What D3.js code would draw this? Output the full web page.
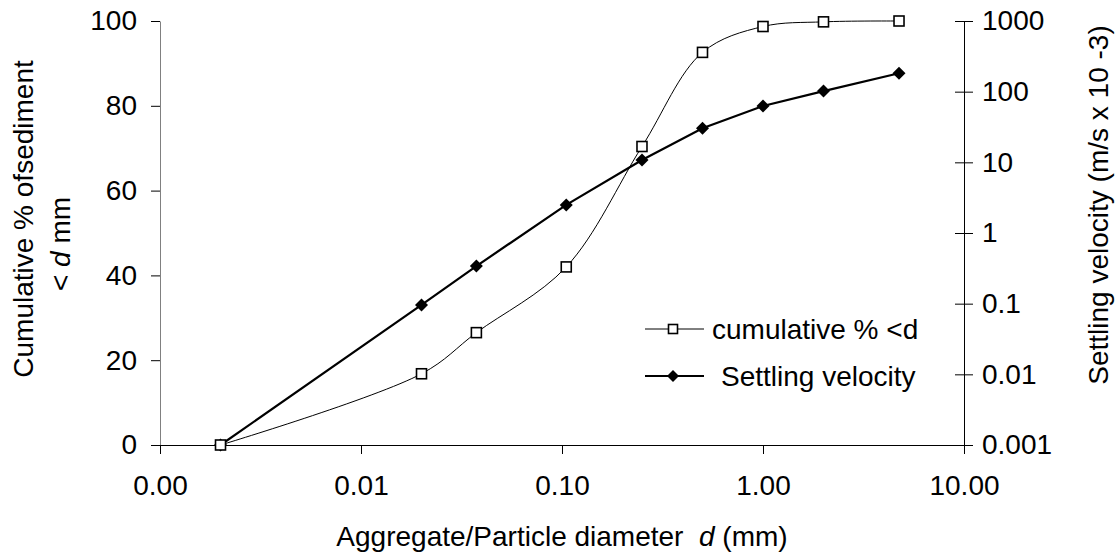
<!DOCTYPE html>
<html>
<head>
<meta charset="utf-8">
<script src="https://cdn.jsdelivr.net/npm/d3@7"></script>
<style>
  html, body { margin: 0; padding: 0; background: #fff; }
  svg { display: block; font-family: Arial, "Liberation Sans", sans-serif; }
</style>
</head>
<body>
<svg id="chart" width="1116" height="556"></svg>
<script>
// ---- data ----
const diameters = [0.002, 0.02, 0.0375, 0.105, 0.25, 0.5, 1.0, 2.0, 4.75];
const cumulativePct = [0, 16.8, 26.5, 42.0, 70.4, 92.6, 98.7, 99.8, 100];
const settlingVelocity = [0.001, 0.096, 0.34, 2.5, 10.8, 30.3, 62.7, 102, 182];
const xTickValues = [0.001, 0.01, 0.1, 1, 10];
const xTickLabels = ["0.00", "0.01", "0.10", "1.00", "10.00"];
const yLeftTicks = [0, 20, 40, 60, 80, 100];
const yRightTickValues = [0.001, 0.01, 0.1, 1, 10, 100, 1000];
const yRightTickLabels = ["0.001", "0.01", "0.1", "1", "10", "100", "1000"];
const seriesNames = ["cumulative % <d", "Settling velocity"];

// ---- layout ----
const L = 160, R = 964, T = 21, B = 445;
const FS = 28;
const svg = d3.select("#chart");

const x = d3.scaleLog().domain([0.001, 10]).range([L, R]);
const yL = d3.scaleLinear().domain([0, 100]).range([B, T]);
const yR = d3.scaleLog().domain([0.001, 1000]).range([B, T]);

// left axis
const gL = svg.append("g").attr("transform", `translate(${L},0)`)
  .call(d3.axisLeft(yL).tickValues(yLeftTicks).tickSize(9).tickSizeOuter(0).tickPadding(14));
gL.select(".domain").attr("stroke", "#808080");
gL.selectAll(".tick line").attr("stroke", "#000");

// right axis
const gR = svg.append("g").attr("transform", `translate(${R},0)`)
  .call(d3.axisRight(yR).tickValues(yRightTickValues)
    .tickFormat((d, i) => yRightTickLabels[i]).tickSize(9).tickSizeOuter(0).tickPadding(9));
gR.selectAll(".tick line").attr("x1", -9).attr("x2", 9).attr("stroke", "#000");
gR.select(".domain").attr("stroke", "#000");

// bottom axis
const gX = svg.append("g").attr("transform", `translate(0,${B})`)
  .call(d3.axisBottom(x).tickValues(xTickValues)
    .tickFormat((d, i) => xTickLabels[i]).tickSize(9).tickSizeOuter(0).tickPadding(21));
gX.select(".domain").attr("stroke", "#000");
gX.selectAll(".tick line").attr("stroke", "#000");

svg.selectAll(".tick text").attr("font-size", FS).attr("font-family", "Arial, 'Liberation Sans', sans-serif").attr("fill", "#000");

// axis titles
const xt = svg.append("text").attr("x", 562).attr("y", 546).attr("text-anchor", "middle")
  .attr("font-size", FS);
xt.append("tspan").text("Aggregate/Particle diameter\u00a0\u00a0");
xt.append("tspan").attr("font-style", "italic").text("d");
xt.append("tspan").text(" (mm)");

svg.append("text").attr("transform", "translate(33,219) rotate(-90)")
  .attr("text-anchor", "middle").attr("font-size", FS).text("Cumulative % ofsediment");
const lt2 = svg.append("text").attr("transform", "translate(70,244) rotate(-90)")
  .attr("text-anchor", "middle").attr("font-size", FS);
lt2.append("tspan").text("< ");
lt2.append("tspan").attr("font-style", "italic").text("d");
lt2.append("tspan").text(" mm");

svg.append("text").attr("transform", "translate(1108,205) rotate(-90)")
  .attr("text-anchor", "middle").attr("font-size", FS).text("Settling velocity (m/s x 10 -3)");

// ---- series ----
const cumData = diameters.map((d, i) => [d, cumulativePct[i]]);
const velData = diameters.map((d, i) => [d, settlingVelocity[i]]);

svg.append("path").datum(cumData)
  .attr("d", d3.line().x(d => x(d[0])).y(d => yL(d[1])).curve(d3.curveCatmullRom.alpha(0.5)))
  .attr("fill", "none").attr("stroke", "#000").attr("stroke-width", 1);

svg.append("path").datum(velData)
  .attr("d", d3.line().x(d => x(d[0])).y(d => yR(d[1])))
  .attr("fill", "none").attr("stroke", "#000").attr("stroke-width", 2.2);

const diamond = s => `M0,${-s}L${s},0L0,${s}L${-s},0Z`;

svg.append("g").selectAll("path").data(velData).join("path")
  .attr("transform", d => `translate(${x(d[0])},${yR(d[1])})`)
  .attr("d", diamond(6.5)).attr("fill", "#000");

svg.append("g").selectAll("rect").data(cumData).join("rect")
  .attr("x", d => x(d[0]) - 5).attr("y", d => yL(d[1]) - 5)
  .attr("width", 10).attr("height", 10)
  .attr("fill", "#fff").attr("stroke", "#000").attr("stroke-width", 1.6);

// ---- legend ----
const lg = svg.append("g");
lg.append("line").attr("x1", 645).attr("x2", 704).attr("y1", 329).attr("y2", 329)
  .attr("stroke", "#000").attr("stroke-width", 1);
lg.append("rect").attr("x", 668.5).attr("y", 324.5).attr("width", 9).attr("height", 9)
  .attr("fill", "#fff").attr("stroke", "#000").attr("stroke-width", 1.6);
lg.append("text").attr("x", 712).attr("y", 339).attr("font-size", FS).text(seriesNames[0]);

lg.append("line").attr("x1", 645).attr("x2", 704).attr("y1", 376).attr("y2", 376)
  .attr("stroke", "#000").attr("stroke-width", 2.2);
lg.append("path").attr("transform", "translate(673,376)").attr("d", diamond(6)).attr("fill", "#000");
lg.append("text").attr("x", 721).attr("y", 386).attr("font-size", FS).text(seriesNames[1]);
</script>
</body>
</html>
